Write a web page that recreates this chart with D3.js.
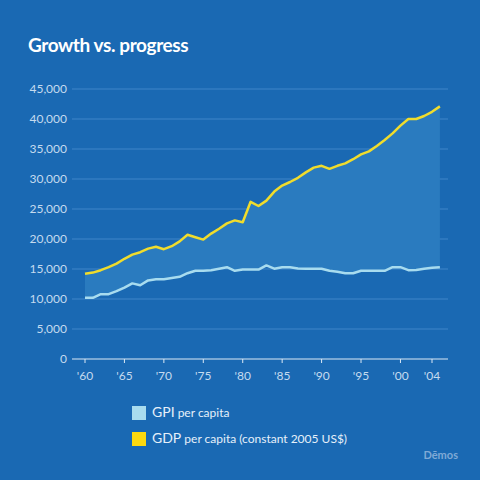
<!DOCTYPE html>
<html><head><meta charset="utf-8">
<script src="https://cdn.jsdelivr.net/npm/d3@7"></script>
<style>
html,body{margin:0;padding:0;background:#1a69b3;}
svg{display:block;}
text{font-family:Lato,"Open Sans",sans-serif;}
</style></head>
<body>
<svg id="c" width="480" height="480"></svg>
<script>
const years = d3.range(1960, 2006);
const gdp = [14.2,14.4,14.8,15.3,15.9,16.7,17.4,17.8,18.4,18.7,18.3,18.8,19.6,20.7,20.3,19.9,20.9,21.7,22.6,23.1,22.8,26.2,25.5,26.4,27.9,28.9,29.5,30.2,31.1,31.9,32.2,31.7,32.2,32.6,33.3,34.1,34.6,35.5,36.5,37.6,38.9,40.0,40.0,40.5,41.2,42.1].map(v=>v*1000);
const gpi = [10.2,10.2,10.8,10.8,11.3,11.9,12.6,12.3,13.1,13.3,13.3,13.5,13.7,14.3,14.7,14.7,14.8,15.05,15.3,14.7,14.9,14.9,14.9,15.6,15.05,15.3,15.3,15.1,15.05,15.05,15.05,14.7,14.55,14.3,14.3,14.7,14.7,14.7,14.7,15.3,15.3,14.8,14.85,15.05,15.2,15.3].map(v=>v*1000);
const yTicks = [0,5000,10000,15000,20000,25000,30000,35000,40000,45000];
const xTicks = [1960,1965,1970,1975,1980,1985,1990,1995,2000,2004];
const xTickLabels = ["'60","'65","'70","'75","'80","'85","'90","'95","'00","'04"];
const legendItems = [
  {big:"GPI", small:" per capita", color:"#a8dcef"},
  {big:"GDP", small:" per capita (constant 2005 US$)", color:"#fdd90f"}
];

const svg = d3.select("#c");
const x = d3.scaleLinear().domain([1960, 2004]).range([85, 432]);
const y = d3.scaleLinear().domain([0, 45000]).range([359, 89]);
const data = years.map((yr,i)=>({yr, gdp:gdp[i], gpi:gpi[i]}));

svg.append("text").attr("x",28).attr("y",52).attr("fill","#fff")
  .attr("font-size",19).attr("font-weight",700).attr("letter-spacing",-0.4).text("Growth vs. progress");

// gridlines
svg.append("g").selectAll("line").data(yTicks.filter(d=>d>0)).join("line")
  .attr("x1",72).attr("x2",448).attr("y1",d=>y(d)).attr("y2",d=>y(d))
  .attr("stroke","#3f86c9").attr("stroke-width",1);

// y labels
svg.append("g").selectAll("text").data(yTicks).join("text")
  .attr("x",67).attr("y",d=>y(d)+4).attr("text-anchor","end")
  .attr("fill","#c5dbef").attr("font-size",12)
  .text(d=>d3.format(",")(d));

// area
svg.append("path").datum(data)
  .attr("d", d3.area().x(d=>x(d.yr)).y0(d=>y(d.gpi)).y1(d=>y(d.gdp)))
  .attr("fill","#2a7bbf");

// x axis
const xa = svg.append("g").attr("transform","translate(0,359)");
xa.append("line").attr("x1",72).attr("x2",448).attr("stroke","#dbe9f6").attr("stroke-width",1.2);
xa.selectAll(".tk").data(xTicks).join("line").attr("class","tk")
  .attr("x1",d=>x(d)).attr("x2",d=>x(d)).attr("y1",0).attr("y2",4)
  .attr("stroke","#dbe9f6").attr("stroke-width",1);
xa.selectAll("text").data(xTicks).join("text")
  .attr("x",d=>x(d)).attr("y",21).attr("text-anchor","middle")
  .attr("fill","#c5dbef").attr("font-size",12)
  .text((d,i)=>xTickLabels[i]);

// lines
svg.append("path").datum(data)
  .attr("d", d3.line().x(d=>x(d.yr)).y(d=>y(d.gpi)))
  .attr("fill","none").attr("stroke","#a8dcef").attr("stroke-width",2.5).attr("stroke-linejoin","round");
svg.append("path").datum(data)
  .attr("d", d3.line().x(d=>x(d.yr)).y(d=>y(d.gdp)))
  .attr("fill","none").attr("stroke","#f0dc2c").attr("stroke-width",2.5).attr("stroke-linejoin","round");

// legend
const lg = svg.append("g").selectAll("g").data(legendItems).join("g")
  .attr("transform",(d,i)=>`translate(132,${404+i*26})`);
lg.append("rect").attr("width",14).attr("height",14).attr("y",2).attr("fill",d=>d.color);
const lt = lg.append("text").attr("x",20).attr("y",13).attr("fill","#e6f0fa");
lt.append("tspan").attr("font-size",14).text(d=>d.big);
lt.append("tspan").attr("font-size",12).text(d=>d.small);

svg.append("text").attr("x",458).attr("y",459).attr("text-anchor","end")
  .attr("fill","#7fa9d6").attr("font-size",11).attr("font-weight",700).text("Dēmos");
</script>
</body></html>
